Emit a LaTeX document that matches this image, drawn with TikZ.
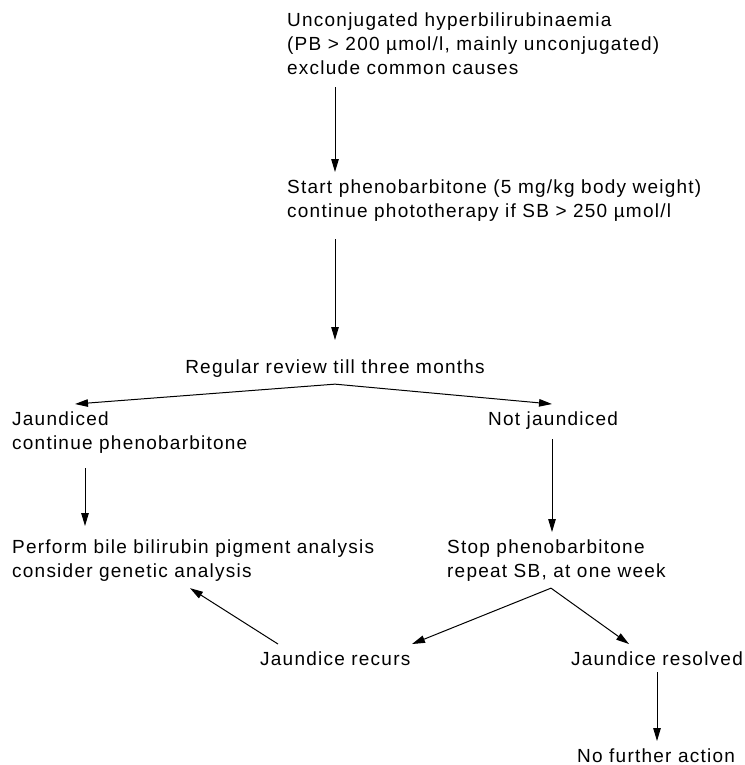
\documentclass[tikz,border=0pt]{standalone}
\usepackage{fontspec}
\setmainfont{Liberation Sans}[LetterSpace=6.5]
\usetikzlibrary{arrows.meta}

\tikzset{
    txt/.style={align=left, inner xsep=0pt, inner ysep=7pt,
        font=\fontsize{19}{24}\selectfont},
    flow/.style={->, line width=1pt}
}

\begin{document}
\begin{tikzpicture}[x=1pt, y=-1pt, >={Triangle[length=13pt,width=7.5pt]}]
    \useasboundingbox (0,0) rectangle (744,765);

    % base of a multi-line node is its last line
    \node[txt, anchor=base west] (cause) at (287,75)
        {Unconjugated hyperbilirubinaemia\\(PB > 200 µmol/l, mainly unconjugated)\\exclude common causes};
    \node[txt, anchor=base west] (start) at (287,217)
        {Start phenobarbitone (5 mg/kg body weight)\\continue phototherapy if SB > 250 µmol/l};
    \node[txt, anchor=base] (review) at (335,373) {Regular review till three months};

    \node[txt, anchor=base west] (jaund) at (12,449) {Jaundiced\\continue phenobarbitone};
    \node[txt, anchor=base west] (notjaund) at (488,425) {Not jaundiced};
    \node[txt, anchor=base west] (bile) at (12,577)
        {Perform bile bilirubin pigment analysis\\consider genetic analysis};
    \node[txt, anchor=base west] (stop) at (447,577)
        {Stop phenobarbitone\\repeat SB, at one week};
    \node[txt, anchor=base west] (recurs) at (260,665) {Jaundice recurs};
    \node[txt, anchor=base west] (resolved) at (571,665) {Jaundice resolved};
    \node[txt, anchor=base west] (noaction) at (577,762) {No further action};

    \draw[flow, shorten <=5pt] (cause.south -| review) -- (start.north -| review);
    \draw[flow, shorten <=11pt, shorten >=12pt] (start.south -| review) -- (review.north);

    \draw[flow] (review.south) -- ([xshift=63pt]jaund.north west);
    \draw[flow] (review.south) -- ([xshift=64pt]notjaund.north west);

    \draw[flow, shorten <=8pt, shorten >=6pt] ([xshift=73pt]jaund.south west) -- ([xshift=73pt]bile.north west);
    \draw[flow, shorten <=3pt] ([xshift=64pt]notjaund.south west) -- ([xshift=105pt]stop.north west);

    \draw[flow] ([xshift=104pt]stop.south west) -- ([xshift=152pt]recurs.north west);
    \draw[flow] ([xshift=104pt]stop.south west) -- ([xshift=58pt]resolved.north west);
    \draw[flow] ([xshift=18pt]recurs.north west) -- ([xshift=178pt]bile.south west);

    \draw[flow] ([xshift=86pt]resolved.south west) -- ([xshift=80pt]noaction.north west);
\end{tikzpicture}
\end{document}
